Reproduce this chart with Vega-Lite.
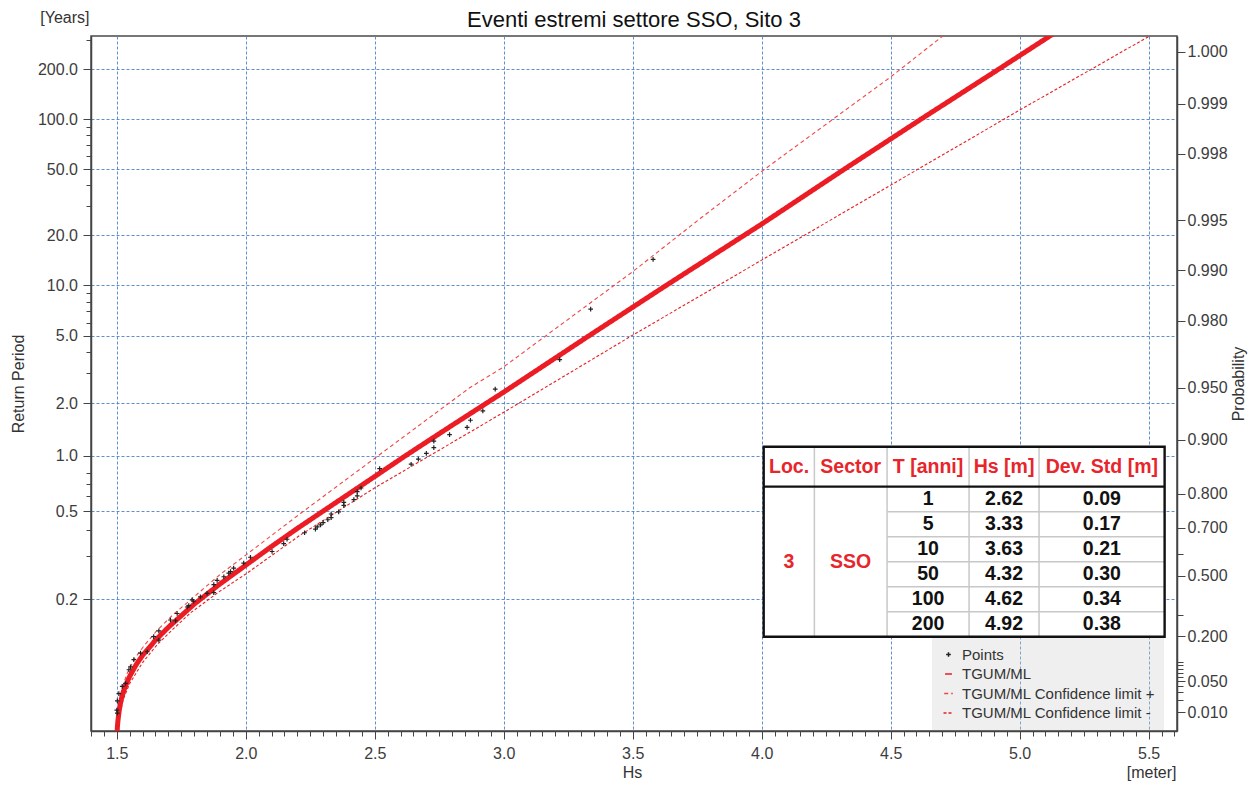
{
  "$schema": "https://vega.github.io/schema/vega-lite/v6.json",
  "width": 1086,
  "height": 695,
  "autosize": {"type": "none"},
  "padding": {"left": 91, "top": 36, "right": 82, "bottom": 54},
  "background": "white",
  "title": {
    "text": "Eventi estremi settore SSO, Sito 3",
    "font": "Liberation Sans",
    "fontSize": 22,
    "fontWeight": "normal",
    "color": "#111111",
    "anchor": "middle",
    "frame": "group",
    "baseline": "alphabetic",
    "offset": -40
  },
  "config": {
    "font": "Liberation Sans",
    "view": {"stroke": "#4a4a4a", "strokeWidth": 1.5},
    "axis": {
      "labelFont": "Liberation Sans",
      "titleFont": "Liberation Sans",
      "labelFontSize": 16,
      "titleFontSize": 16,
      "titleFontWeight": "normal",
      "labelColor": "#3c3c3c",
      "titleColor": "#333333",
      "tickColor": "#444444",
      "domainColor": "#444444",
      "domainWidth": 1.5,
      "tickWidth": 1,
      "labelOverlap": false,
      "labelBound": false,
      "labelFlush": false,
      "gridColor": "#4f83c9",
      "gridDash": [3, 2],
      "gridWidth": 1,
      "gridOpacity": 0.9
    }
  },
  "datasets": {
    "fit": [
      {"series": "TGUM/ML", "Hs": 1.5, "gumbel": -1.95},
      {"series": "TGUM/ML", "Hs": 1.502, "gumbel": -1.75},
      {"series": "TGUM/ML", "Hs": 1.504, "gumbel": -1.66},
      {"series": "TGUM/ML", "Hs": 1.507, "gumbel": -1.57},
      {"series": "TGUM/ML", "Hs": 1.51, "gumbel": -1.49},
      {"series": "TGUM/ML", "Hs": 1.515, "gumbel": -1.39},
      {"series": "TGUM/ML", "Hs": 1.52, "gumbel": -1.31},
      {"series": "TGUM/ML", "Hs": 1.53, "gumbel": -1.2},
      {"series": "TGUM/ML", "Hs": 1.54, "gumbel": -1.11},
      {"series": "TGUM/ML", "Hs": 1.55, "gumbel": -1.03},
      {"series": "TGUM/ML", "Hs": 1.575, "gumbel": -0.87},
      {"series": "TGUM/ML", "Hs": 1.6, "gumbel": -0.74},
      {"series": "TGUM/ML", "Hs": 1.65, "gumbel": -0.53},
      {"series": "TGUM/ML", "Hs": 1.7, "gumbel": -0.35},
      {"series": "TGUM/ML", "Hs": 1.75, "gumbel": -0.19},
      {"series": "TGUM/ML", "Hs": 1.8, "gumbel": -0.03},
      {"series": "TGUM/ML", "Hs": 1.9, "gumbel": 0.25},
      {"series": "TGUM/ML", "Hs": 2.0, "gumbel": 0.51},
      {"series": "TGUM/ML", "Hs": 2.1, "gumbel": 0.77},
      {"series": "TGUM/ML", "Hs": 2.2, "gumbel": 1.02},
      {"series": "TGUM/ML", "Hs": 2.3, "gumbel": 1.26},
      {"series": "TGUM/ML", "Hs": 2.4, "gumbel": 1.5},
      {"series": "TGUM/ML", "Hs": 2.5, "gumbel": 1.74},
      {"series": "TGUM/ML", "Hs": 2.62, "gumbel": 2.03},
      {"series": "TGUM/ML", "Hs": 2.8, "gumbel": 2.45},
      {"series": "TGUM/ML", "Hs": 3.0, "gumbel": 2.91},
      {"series": "TGUM/ML", "Hs": 3.33, "gumbel": 3.69},
      {"series": "TGUM/ML", "Hs": 3.63, "gumbel": 4.39},
      {"series": "TGUM/ML", "Hs": 4.0, "gumbel": 5.24},
      {"series": "TGUM/ML", "Hs": 4.32, "gumbel": 6.0},
      {"series": "TGUM/ML", "Hs": 4.62, "gumbel": 6.7},
      {"series": "TGUM/ML", "Hs": 4.92, "gumbel": 7.39},
      {"series": "TGUM/ML", "Hs": 5.14, "gumbel": 7.9}
    ],
    "ciUpper": [
      {"series": "TGUM/ML Confidence limit +", "Hs": 1.5, "gumbel": -1.95},
      {"series": "TGUM/ML Confidence limit +", "Hs": 1.503, "gumbel": -1.6},
      {"series": "TGUM/ML Confidence limit +", "Hs": 1.51, "gumbel": -1.38},
      {"series": "TGUM/ML Confidence limit +", "Hs": 1.52, "gumbel": -1.2},
      {"series": "TGUM/ML Confidence limit +", "Hs": 1.54, "gumbel": -0.99},
      {"series": "TGUM/ML Confidence limit +", "Hs": 1.57, "gumbel": -0.78},
      {"series": "TGUM/ML Confidence limit +", "Hs": 1.605, "gumbel": -0.61},
      {"series": "TGUM/ML Confidence limit +", "Hs": 1.657, "gumbel": -0.39},
      {"series": "TGUM/ML Confidence limit +", "Hs": 1.72, "gumbel": -0.17},
      {"series": "TGUM/ML Confidence limit +", "Hs": 1.786, "gumbel": 0.03},
      {"series": "TGUM/ML Confidence limit +", "Hs": 1.9, "gumbel": 0.38},
      {"series": "TGUM/ML Confidence limit +", "Hs": 2.0, "gumbel": 0.65},
      {"series": "TGUM/ML Confidence limit +", "Hs": 2.213, "gumbel": 1.23},
      {"series": "TGUM/ML Confidence limit +", "Hs": 2.499, "gumbel": 1.99},
      {"series": "TGUM/ML Confidence limit +", "Hs": 2.868, "gumbel": 2.97},
      {"series": "TGUM/ML Confidence limit +", "Hs": 3.0, "gumbel": 3.26},
      {"series": "TGUM/ML Confidence limit +", "Hs": 3.5, "gumbel": 4.58},
      {"series": "TGUM/ML Confidence limit +", "Hs": 3.763, "gumbel": 5.32},
      {"series": "TGUM/ML Confidence limit +", "Hs": 4.0, "gumbel": 5.97},
      {"series": "TGUM/ML Confidence limit +", "Hs": 4.5, "gumbel": 7.28},
      {"series": "TGUM/ML Confidence limit +", "Hs": 4.71, "gumbel": 7.87}
    ],
    "ciLower": [
      {"series": "TGUM/ML Confidence limit -", "Hs": 1.5, "gumbel": -1.95},
      {"series": "TGUM/ML Confidence limit -", "Hs": 1.505, "gumbel": -1.72},
      {"series": "TGUM/ML Confidence limit -", "Hs": 1.512, "gumbel": -1.55},
      {"series": "TGUM/ML Confidence limit -", "Hs": 1.525, "gumbel": -1.35},
      {"series": "TGUM/ML Confidence limit -", "Hs": 1.55, "gumbel": -1.13},
      {"series": "TGUM/ML Confidence limit -", "Hs": 1.6, "gumbel": -0.84},
      {"series": "TGUM/ML Confidence limit -", "Hs": 1.657, "gumbel": -0.59},
      {"series": "TGUM/ML Confidence limit -", "Hs": 1.72, "gumbel": -0.37},
      {"series": "TGUM/ML Confidence limit -", "Hs": 1.786, "gumbel": -0.15},
      {"series": "TGUM/ML Confidence limit -", "Hs": 1.9, "gumbel": 0.15},
      {"series": "TGUM/ML Confidence limit -", "Hs": 2.005, "gumbel": 0.4},
      {"series": "TGUM/ML Confidence limit -", "Hs": 2.212, "gumbel": 0.93},
      {"series": "TGUM/ML Confidence limit -", "Hs": 2.499, "gumbel": 1.58},
      {"series": "TGUM/ML Confidence limit -", "Hs": 3.0, "gumbel": 2.63},
      {"series": "TGUM/ML Confidence limit -", "Hs": 3.5, "gumbel": 3.7},
      {"series": "TGUM/ML Confidence limit -", "Hs": 4.0, "gumbel": 4.74},
      {"series": "TGUM/ML Confidence limit -", "Hs": 4.5, "gumbel": 5.78},
      {"series": "TGUM/ML Confidence limit -", "Hs": 5.0, "gumbel": 6.82},
      {"series": "TGUM/ML Confidence limit -", "Hs": 5.51, "gumbel": 7.86}
    ],
    "points": [
      {"series": "Points", "Hs": 1.5, "gumbel": -1.5},
      {"series": "Points", "Hs": 1.502, "gumbel": -1.37},
      {"series": "Points", "Hs": 1.502, "gumbel": -1.54},
      {"series": "Points", "Hs": 1.508, "gumbel": -1.27},
      {"series": "Points", "Hs": 1.521, "gumbel": -1.17},
      {"series": "Points", "Hs": 1.534, "gumbel": -1.13},
      {"series": "Points", "Hs": 1.547, "gumbel": -0.94},
      {"series": "Points", "Hs": 1.553, "gumbel": -0.9},
      {"series": "Points", "Hs": 1.566, "gumbel": -0.8},
      {"series": "Points", "Hs": 1.592, "gumbel": -0.71},
      {"series": "Points", "Hs": 1.618, "gumbel": -0.69},
      {"series": "Points", "Hs": 1.643, "gumbel": -0.48},
      {"series": "Points", "Hs": 1.663, "gumbel": -0.4},
      {"series": "Points", "Hs": 1.663, "gumbel": -0.53},
      {"series": "Points", "Hs": 1.708, "gumbel": -0.25},
      {"series": "Points", "Hs": 1.728, "gumbel": -0.26},
      {"series": "Points", "Hs": 1.734, "gumbel": -0.16},
      {"series": "Points", "Hs": 1.773, "gumbel": -0.07},
      {"series": "Points", "Hs": 1.779, "gumbel": -0.05},
      {"series": "Points", "Hs": 1.792, "gumbel": 0.03},
      {"series": "Points", "Hs": 1.798, "gumbel": 0.01},
      {"series": "Points", "Hs": 1.824, "gumbel": 0.07},
      {"series": "Points", "Hs": 1.85, "gumbel": 0.12},
      {"series": "Points", "Hs": 1.876, "gumbel": 0.13},
      {"series": "Points", "Hs": 1.876, "gumbel": 0.24},
      {"series": "Points", "Hs": 1.889, "gumbel": 0.3},
      {"series": "Points", "Hs": 1.915, "gumbel": 0.35},
      {"series": "Points", "Hs": 1.934, "gumbel": 0.4},
      {"series": "Points", "Hs": 1.941, "gumbel": 0.42},
      {"series": "Points", "Hs": 1.953, "gumbel": 0.47},
      {"series": "Points", "Hs": 1.992, "gumbel": 0.54},
      {"series": "Points", "Hs": 2.018, "gumbel": 0.62},
      {"series": "Points", "Hs": 2.102, "gumbel": 0.7},
      {"series": "Points", "Hs": 2.147, "gumbel": 0.81},
      {"series": "Points", "Hs": 2.16, "gumbel": 0.87},
      {"series": "Points", "Hs": 2.228, "gumbel": 0.96},
      {"series": "Points", "Hs": 2.27, "gumbel": 1.01},
      {"series": "Points", "Hs": 2.277, "gumbel": 1.04},
      {"series": "Points", "Hs": 2.29, "gumbel": 1.07},
      {"series": "Points", "Hs": 2.3, "gumbel": 1.1},
      {"series": "Points", "Hs": 2.318, "gumbel": 1.14},
      {"series": "Points", "Hs": 2.331, "gumbel": 1.17},
      {"series": "Points", "Hs": 2.331, "gumbel": 1.22},
      {"series": "Points", "Hs": 2.36, "gumbel": 1.25},
      {"series": "Points", "Hs": 2.38, "gumbel": 1.34},
      {"series": "Points", "Hs": 2.38, "gumbel": 1.38},
      {"series": "Points", "Hs": 2.419, "gumbel": 1.42},
      {"series": "Points", "Hs": 2.432, "gumbel": 1.47},
      {"series": "Points", "Hs": 2.432, "gumbel": 1.53},
      {"series": "Points", "Hs": 2.447, "gumbel": 1.58},
      {"series": "Points", "Hs": 2.519, "gumbel": 1.85},
      {"series": "Points", "Hs": 2.641, "gumbel": 1.91},
      {"series": "Points", "Hs": 2.669, "gumbel": 1.98},
      {"series": "Points", "Hs": 2.7, "gumbel": 2.06},
      {"series": "Points", "Hs": 2.729, "gumbel": 2.14},
      {"series": "Points", "Hs": 2.729, "gumbel": 2.23},
      {"series": "Points", "Hs": 2.79, "gumbel": 2.32},
      {"series": "Points", "Hs": 2.858, "gumbel": 2.42},
      {"series": "Points", "Hs": 2.871, "gumbel": 2.52},
      {"series": "Points", "Hs": 2.919, "gumbel": 2.65},
      {"series": "Points", "Hs": 2.967, "gumbel": 2.95},
      {"series": "Points", "Hs": 3.217, "gumbel": 3.36},
      {"series": "Points", "Hs": 3.337, "gumbel": 4.06},
      {"series": "Points", "Hs": 3.579, "gumbel": 4.75}
    ],
    "table": [
      {"row": 1, "T": 1, "Hs": 2.62, "Std": 0.09},
      {"row": 2, "T": 5, "Hs": 3.33, "Std": 0.17},
      {"row": 3, "T": 10, "Hs": 3.63, "Std": 0.21},
      {"row": 4, "T": 50, "Hs": 4.32, "Std": 0.30},
      {"row": 5, "T": 100, "Hs": 4.62, "Std": 0.34},
      {"row": 6, "T": 200, "Hs": 4.92, "Std": 0.38}
    ]
  },
  "layer": [
    {
      "layer": [
        {
          "data": {"name": "ciUpper"},
          "mark": {"type": "line", "strokeWidth": 1.1, "clip": true},
          "encoding": {
            "x": {"field": "Hs", "type": "quantitative", "scale": {"domain": [1.4, 5.61], "nice": false, "zero": false}, "axis": null},
            "y": {
              "field": "gumbel", "type": "quantitative",
              "scale": {"domain": [-1.789, 7.8475], "nice": false, "zero": false},
              "axis": {
                "orient": "right",
                "values": [7.63, 6.9073, 6.2135, 5.2958, 4.6002, 3.9019, 2.9702, 2.2504, 1.4999, 1.0309, 0.3665, -0.4759, -1.0972, -1.5272],
                "labelExpr": "format(exp(-exp(-datum.value)), '.3f')",
                "grid": false,
                "tickSize": 8,
                "labelPadding": 2,
                "title": "Probability",
                "titleAngle": 270,
                "titleX": 61,
                "titleY": 347.5,
                "titleAlign": "center",
                "titleBaseline": "middle"
              }
            },
            "color": {
              "field": "series", "type": "nominal",
              "scale": {
                "domain": ["Points", "TGUM/ML", "TGUM/ML Confidence limit +", "TGUM/ML Confidence limit -"],
                "range": ["#222222", "#ec1c24", "#f04545", "#e62020"]
              },
              "legend": {
                "orient": "none",
                "legendX": 841,
                "legendY": 602,
                "direction": "vertical",
                "title": null,
                "padding": 9,
                "fillColor": "rgba(205,205,205,0.32)",
                "labelFont": "Liberation Sans",
                "labelFontSize": 15,
                "labelColor": "#333333",
                "labelLimit": 400,
                "labelOffset": 6,
                "rowPadding": 3.5,
                "symbolStrokeWidth": 1.5
              }
            },
            "strokeDash": {
              "field": "series", "type": "nominal",
              "scale": {
                "domain": ["Points", "TGUM/ML", "TGUM/ML Confidence limit +", "TGUM/ML Confidence limit -"],
                "range": [[1, 0], [1, 0], [4, 3], [3, 2]]
              }
            }
          }
        },
        {
          "data": {"name": "ciLower"},
          "mark": {"type": "line", "strokeWidth": 1.1, "clip": true},
          "encoding": {
            "x": {"field": "Hs", "type": "quantitative", "scale": {"domain": [1.4, 5.61], "nice": false, "zero": false}, "axis": null},
            "y": {
              "field": "gumbel", "type": "quantitative",
              "scale": {"domain": [-1.789, 7.8475], "nice": false, "zero": false},
              "axis": {
                "orient": "right",
                "values": [0.6717, -0.1856, -0.834, -0.8788, -0.9265, -0.9781, -1.0344, -1.169, -1.2546, -1.3641],
                "labels": false,
                "domain": false,
                "grid": false,
                "tickSize": 6,
                "title": null
              }
            },
            "color": {"field": "series", "type": "nominal"},
            "strokeDash": {"field": "series", "type": "nominal"}
          }
        },
        {
          "data": {"name": "fit"},
          "mark": {"type": "line", "strokeWidth": 5, "clip": true},
          "encoding": {
            "x": {
              "field": "Hs", "type": "quantitative",
              "scale": {"domain": [1.4, 5.61], "nice": false, "zero": false},
              "axis": {
                "orient": "bottom",
                "values": [1.4, 1.45, 1.55, 1.6, 1.65, 1.7, 1.75, 1.8, 1.85, 1.9, 1.95, 2.05, 2.1, 2.15, 2.2, 2.25, 2.3, 2.35, 2.4, 2.45, 2.55, 2.6, 2.65, 2.7, 2.75, 2.8, 2.85, 2.9, 2.95, 3.05, 3.1, 3.15, 3.2, 3.25, 3.3, 3.35, 3.4, 3.45, 3.55, 3.6, 3.65, 3.7, 3.75, 3.8, 3.85, 3.9, 3.95, 4.05, 4.1, 4.15, 4.2, 4.25, 4.3, 4.35, 4.4, 4.45, 4.55, 4.6, 4.65, 4.7, 4.75, 4.8, 4.85, 4.9, 4.95, 5.05, 5.1, 5.15, 5.2, 5.25, 5.3, 5.35, 5.4, 5.45, 5.55, 5.6],
                "labels": false,
                "domain": false,
                "grid": false,
                "tickSize": 5,
                "title": "[meter]",
                "titleX": 1085,
                "titleY": 46,
                "titleAlign": "right",
                "titleBaseline": "alphabetic"
              }
            },
            "y": {
              "field": "gumbel", "type": "quantitative",
              "scale": {"domain": [-1.789, 7.8475], "nice": false, "zero": false},
              "axis": {
                "orient": "left",
                "values": [7.7954, 6.591, 6.4731, 6.3394, 6.1852, 5.7792, 5.4883, 4.2822, 4.1635, 4.0289, 3.8732, 3.4625, 3.1695, 1.7861, 1.6397, 1.4681, 0.9967, 0.6345],
                "labels": false,
                "domain": false,
                "grid": false,
                "tickSize": 5,
                "title": "[Years]",
                "titleAngle": 0,
                "titleX": -2,
                "titleY": -14,
                "titleAlign": "right",
                "titleBaseline": "alphabetic"
              }
            },
            "color": {"field": "series", "type": "nominal"},
            "strokeDash": {"field": "series", "type": "nominal"}
          }
        },
        {
          "data": {"name": "points"},
          "mark": {"type": "point", "filled": false, "strokeWidth": 1.2, "opacity": 1, "clip": true},
          "encoding": {
            "x": {
              "field": "Hs", "type": "quantitative",
              "scale": {"domain": [1.4, 5.61], "nice": false, "zero": false},
              "axis": {
                "orient": "bottom",
                "values": [1.5, 2.0, 2.5, 3.0, 3.5, 4.0, 4.5, 5.0, 5.5],
                "format": ".1f",
                "grid": true,
                "tickSize": 8,
                "labelPadding": 6,
                "title": "Hs",
                "titleX": 541,
                "titleY": 46.5,
                "titleAlign": "center",
                "titleBaseline": "alphabetic"
              }
            },
            "y": {
              "field": "gumbel", "type": "quantitative",
              "scale": {"domain": [-1.789, 7.8475], "nice": false, "zero": false},
              "axis": {
                "orient": "left",
                "values": [7.3899, 6.6964, 6.0027, 5.0845, 4.3883, 3.6888, 2.7533, 2.0267, 1.2603, 0.0403],
                "labelExpr": "format(1/(8.1*(1-exp(-exp(-datum.value)))), '.1f')",
                "grid": true,
                "tickSize": 8,
                "labelPadding": 5.5,
                "title": "Return Period",
                "titleAngle": 270,
                "titleX": -72.5,
                "titleY": 347.5,
                "titleAlign": "center",
                "titleBaseline": "middle"
              }
            },
            "color": {"field": "series", "type": "nominal"},
            "shape": {
              "field": "series", "type": "nominal",
              "scale": {
                "domain": ["Points", "TGUM/ML", "TGUM/ML Confidence limit +", "TGUM/ML Confidence limit -"],
                "range": ["M-1,0H1M0,-1V1", "stroke", "stroke", "stroke"]
              }
            },
            "size": {
              "field": "series", "type": "nominal",
              "scale": {
                "domain": ["Points", "TGUM/ML", "TGUM/ML Confidence limit +", "TGUM/ML Confidence limit -"],
                "range": [22, 100, 100, 100]
              }
            }
          }
        }
      ],
      "resolve": {"axis": {"x": "independent", "y": "independent"}}
    },
    {
      "layer": [
        {
          "data": {"values": [{}]},
          "mark": {"type": "rect", "color": "white"},
          "encoding": {
            "x": {"datum": 4.0078, "type": "quantitative", "scale": {"domain": [1.4, 5.61], "nice": false, "zero": false}, "axis": null},
            "x2": {"datum": 5.562},
            "y": {"datum": -1.1, "type": "quantitative", "scale": {"domain": [-17.528, 10.272], "reverse": true, "nice": false, "zero": false}, "axis": null},
            "y2": {"datum": 6.5}
          }
        },
        {
          "data": {"values": [{}]},
          "mark": {"type": "rule", "color": "#c8c8c8", "strokeWidth": 1.5},
          "encoding": {
            "x": {"datum": 4.2043, "type": "quantitative", "axis": null},
            "y": {"datum": -1.1, "type": "quantitative", "axis": null},
            "y2": {"datum": 6.5}
          }
        },
        {
          "data": {"values": [{}]},
          "mark": {"type": "rule", "color": "#c8c8c8", "strokeWidth": 1.5},
          "encoding": {
            "x": {"datum": 4.486, "type": "quantitative", "axis": null},
            "y": {"datum": -1.1, "type": "quantitative", "axis": null},
            "y2": {"datum": 6.5}
          }
        },
        {
          "data": {"values": [{}]},
          "mark": {"type": "rule", "color": "#c8c8c8", "strokeWidth": 1.5},
          "encoding": {
            "x": {"datum": 4.8039, "type": "quantitative", "axis": null},
            "y": {"datum": -1.1, "type": "quantitative", "axis": null},
            "y2": {"datum": 6.5}
          }
        },
        {
          "data": {"values": [{}]},
          "mark": {"type": "rule", "color": "#c8c8c8", "strokeWidth": 1.5},
          "encoding": {
            "x": {"datum": 5.0752, "type": "quantitative", "axis": null},
            "y": {"datum": -1.1, "type": "quantitative", "axis": null},
            "y2": {"datum": 6.5}
          }
        },
        {
          "data": {"name": "table"},
          "transform": [{"filter": "datum.row < 6"}],
          "mark": {"type": "rule", "color": "#c8c8c8", "strokeWidth": 1.5},
          "encoding": {
            "x": {"datum": 4.486, "type": "quantitative", "axis": null},
            "x2": {"datum": 5.562},
            "y": {"field": "row", "type": "quantitative", "axis": null},
            "yOffset": {"value": 12.5}
          }
        },
        {
          "data": {"values": [{}]},
          "mark": {"type": "rule", "color": "#111111", "strokeWidth": 2.2},
          "encoding": {
            "x": {"datum": 4.0078, "type": "quantitative", "axis": null},
            "x2": {"datum": 5.562},
            "y": {"datum": 0.5, "type": "quantitative", "axis": null}
          }
        },
        {
          "data": {"values": [{}]},
          "mark": {"type": "rect", "filled": false, "color": "#111111", "strokeWidth": 2.4},
          "encoding": {
            "x": {"datum": 4.0078, "type": "quantitative", "axis": null},
            "x2": {"datum": 5.562},
            "y": {"datum": -1.1, "type": "quantitative", "axis": null},
            "y2": {"datum": 6.5}
          }
        },
        {
          "data": {"values": [{}]},
          "mark": {"type": "text", "text": "Loc.", "font": "Liberation Sans", "fontSize": 19.5, "fontWeight": "bold", "color": "#e8252b", "align": "center", "baseline": "middle"},
          "encoding": {
            "x": {"datum": 4.106, "type": "quantitative", "axis": null},
            "y": {"datum": -0.3, "type": "quantitative", "axis": null}
          }
        },
        {
          "data": {"values": [{}]},
          "mark": {"type": "text", "text": "Sector", "font": "Liberation Sans", "fontSize": 19.5, "fontWeight": "bold", "color": "#e8252b", "align": "center", "baseline": "middle"},
          "encoding": {
            "x": {"datum": 4.345, "type": "quantitative", "axis": null},
            "y": {"datum": -0.3, "type": "quantitative", "axis": null}
          }
        },
        {
          "data": {"values": [{}]},
          "mark": {"type": "text", "text": "T [anni]", "font": "Liberation Sans", "fontSize": 19.5, "fontWeight": "bold", "color": "#e8252b", "align": "center", "baseline": "middle"},
          "encoding": {
            "x": {"datum": 4.645, "type": "quantitative", "axis": null},
            "y": {"datum": -0.3, "type": "quantitative", "axis": null}
          }
        },
        {
          "data": {"values": [{}]},
          "mark": {"type": "text", "text": "Hs [m]", "font": "Liberation Sans", "fontSize": 19.5, "fontWeight": "bold", "color": "#e8252b", "align": "center", "baseline": "middle"},
          "encoding": {
            "x": {"datum": 4.9395, "type": "quantitative", "axis": null},
            "y": {"datum": -0.3, "type": "quantitative", "axis": null}
          }
        },
        {
          "data": {"values": [{}]},
          "mark": {"type": "text", "text": "Dev. Std [m]", "font": "Liberation Sans", "fontSize": 19.5, "fontWeight": "bold", "color": "#e8252b", "align": "center", "baseline": "middle"},
          "encoding": {
            "x": {"datum": 5.3186, "type": "quantitative", "axis": null},
            "y": {"datum": -0.3, "type": "quantitative", "axis": null}
          }
        },
        {
          "data": {"values": [{}]},
          "mark": {"type": "text", "text": "3", "font": "Liberation Sans", "fontSize": 19.5, "fontWeight": "bold", "color": "#e8252b", "align": "center", "baseline": "middle"},
          "encoding": {
            "x": {"datum": 4.106, "type": "quantitative", "axis": null},
            "y": {"datum": 3.5, "type": "quantitative", "axis": null}
          }
        },
        {
          "data": {"values": [{}]},
          "mark": {"type": "text", "text": "SSO", "font": "Liberation Sans", "fontSize": 19.5, "fontWeight": "bold", "color": "#e8252b", "align": "center", "baseline": "middle"},
          "encoding": {
            "x": {"datum": 4.345, "type": "quantitative", "axis": null},
            "y": {"datum": 3.5, "type": "quantitative", "axis": null}
          }
        },
        {
          "data": {"name": "table"},
          "mark": {"type": "text", "font": "Liberation Sans", "fontSize": 19.5, "fontWeight": "bold", "color": "#111111", "align": "center", "baseline": "middle"},
          "encoding": {
            "x": {"datum": 4.645, "type": "quantitative", "axis": null},
            "y": {"field": "row", "type": "quantitative", "axis": null},
            "text": {"field": "T", "type": "quantitative", "format": "d"}
          }
        },
        {
          "data": {"name": "table"},
          "mark": {"type": "text", "font": "Liberation Sans", "fontSize": 19.5, "fontWeight": "bold", "color": "#111111", "align": "center", "baseline": "middle"},
          "encoding": {
            "x": {"datum": 4.9395, "type": "quantitative", "axis": null},
            "y": {"field": "row", "type": "quantitative", "axis": null},
            "text": {"field": "Hs", "type": "quantitative", "format": ".2f"}
          }
        },
        {
          "data": {"name": "table"},
          "mark": {"type": "text", "font": "Liberation Sans", "fontSize": 19.5, "fontWeight": "bold", "color": "#111111", "align": "center", "baseline": "middle"},
          "encoding": {
            "x": {"datum": 5.3186, "type": "quantitative", "axis": null},
            "y": {"field": "row", "type": "quantitative", "axis": null},
            "text": {"field": "Std", "type": "quantitative", "format": ".2f"}
          }
        }
      ]
    }
  ],
  "resolve": {"scale": {"y": "independent"}, "axis": {"y": "independent"}}
}
